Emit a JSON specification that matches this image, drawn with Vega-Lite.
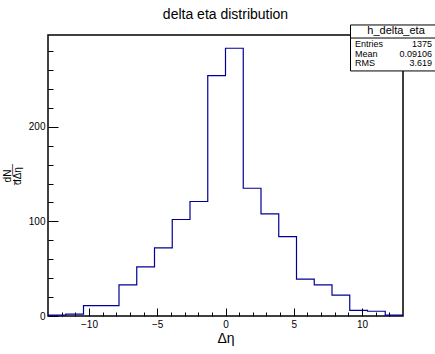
{
  "$schema": "https://vega.github.io/schema/vega-lite/v6.json",
  "autosize": "none",
  "width": 355,
  "height": 281,
  "padding": {"left": 48, "top": 35, "right": 32, "bottom": 38},
  "background": "white",
  "config": {
    "font": "Liberation Sans",
    "view": {"stroke": "black", "strokeWidth": 1.5},
    "axis": {"domain": false, "grid": false, "labelColor": "black", "titleColor": "black", "labelFont": "Liberation Sans", "titleFont": "Liberation Sans", "titleFontWeight": "normal", "tickColor": "black", "labelOverlap": false, "tickWidth": 1, "ticks": true, "zindex": 1}
  },
  "title": {"text": "delta eta distribution", "fontSize": 14, "fontWeight": "normal", "font": "Liberation Sans", "anchor": "middle", "frame": "group", "offset": 2, "color": "black"},
  "resolve": {"axis": {"x": "independent", "y": "independent"}},
  "datasets": {
    "hist": [
      {"bin_start": -13, "bin_end": -11.7, "count": 1},
      {"bin_start": -11.7, "bin_end": -10.4, "count": 2},
      {"bin_start": -10.4, "bin_end": -9.1, "count": 11},
      {"bin_start": -9.1, "bin_end": -7.8, "count": 11},
      {"bin_start": -7.8, "bin_end": -6.5, "count": 33},
      {"bin_start": -6.5, "bin_end": -5.2, "count": 52},
      {"bin_start": -5.2, "bin_end": -3.9, "count": 72},
      {"bin_start": -3.9, "bin_end": -2.6, "count": 102},
      {"bin_start": -2.6, "bin_end": -1.3, "count": 121},
      {"bin_start": -1.3, "bin_end": 0, "count": 254},
      {"bin_start": 0, "bin_end": 1.3, "count": 283},
      {"bin_start": 1.3, "bin_end": 2.6, "count": 135},
      {"bin_start": 2.6, "bin_end": 3.9, "count": 108},
      {"bin_start": 3.9, "bin_end": 5.2, "count": 84},
      {"bin_start": 5.2, "bin_end": 6.5, "count": 39},
      {"bin_start": 6.5, "bin_end": 7.8, "count": 33},
      {"bin_start": 7.8, "bin_end": 9.1, "count": 22},
      {"bin_start": 9.1, "bin_end": 10.4, "count": 6},
      {"bin_start": 10.4, "bin_end": 11.7, "count": 5},
      {"bin_start": 11.7, "bin_end": 13, "count": 1}
    ],
    "stats": [
      {"title": "h_delta_eta", "names": ["Entries", "Mean", "RMS"], "vals": ["1375", "0.09106", "3.619"]}
    ]
  },
  "layer": [
    {
      "data": {"name": "hist"},
      "transform": [{"fold": ["bin_start", "bin_end"], "as": ["edge", "xpos"]}],
      "mark": {"type": "line", "color": "#000099", "strokeWidth": 1.2, "clip": false},
      "encoding": {
        "x": {
          "field": "xpos", "type": "quantitative",
          "scale": {"domain": [-13, 13], "nice": false, "zero": false},
          "axis": {
            "orient": "bottom", "offset": -8,
            "title": "Δη", "titleFontSize": 14, "titlePadding": 2,
            "values": [-10, -5, 0, 5, 10],
            "labelFontSize": 10, "labelPadding": 3,
            "tickSize": 8
          }
        },
        "y": {
          "field": "count", "type": "quantitative",
          "scale": {"domain": [0, 297], "nice": false, "zero": true},
          "axis": {
            "orient": "left", "offset": -10,
            "title": ["dN", "d\u0305Δ\u0305η\u0305"], "titleFontSize": 10, "titlePadding": 6, "titleLineHeight": 10,
            "values": [0, 100, 200],
            "labelFontSize": 10, "labelPadding": 3,
            "tickSize": 10
          }
        },
        "order": [{"field": "xpos", "type": "quantitative"}, {"field": "bin_start", "type": "quantitative"}]
      }
    },
    {
      "data": {"name": "stats"},
      "mark": {"type": "rect", "fill": "white", "stroke": "black", "strokeWidth": 1, "clip": false},
      "encoding": {
        "x": {"datum": 9.155, "type": "quantitative",
          "axis": {"orient": "bottom", "offset": -4, "title": null, "labels": false, "values": [-12, -11, -9, -8, -7, -6, -4, -3, -2, -1, 1, 2, 3, 4, 6, 7, 8, 9, 11, 12], "tickSize": 4}},
        "x2": {"datum": 16},
        "y": {"datum": 259, "type": "quantitative",
          "axis": {"orient": "left", "offset": -5, "title": null, "labels": false, "values": [20, 40, 60, 80, 120, 140, 160, 180, 220, 240, 260, 280], "tickSize": 5}},
        "y2": {"datum": 307.6}
      }
    },
    {
      "data": {"name": "stats"},
      "mark": {"type": "rule", "color": "black", "strokeWidth": 1, "clip": false},
      "encoding": {
        "x": {"datum": 9.155, "type": "quantitative", "axis": null},
        "x2": {"datum": 16},
        "y": {"datum": 293.8, "type": "quantitative", "axis": null}
      }
    },
    {
      "data": {"name": "stats"},
      "mark": {"type": "text", "fontSize": 11, "align": "center", "baseline": "middle", "color": "black", "clip": false},
      "encoding": {
        "x": {"datum": 12.49, "type": "quantitative", "axis": null},
        "y": {"datum": 300.7, "type": "quantitative", "axis": null},
        "text": {"field": "title"}
      }
    },
    {
      "data": {"name": "stats"},
      "mark": {"type": "text", "fontSize": 9, "align": "left", "baseline": "top", "lineHeight": 9.2, "color": "black", "clip": false},
      "encoding": {
        "x": {"datum": 9.48, "type": "quantitative", "axis": null},
        "y": {"datum": 291.2, "type": "quantitative", "axis": null},
        "text": {"field": "names"}
      }
    },
    {
      "data": {"name": "stats"},
      "mark": {"type": "text", "fontSize": 9, "align": "right", "baseline": "top", "lineHeight": 9.2, "color": "black", "clip": false},
      "encoding": {
        "x": {"datum": 15.12, "type": "quantitative", "axis": null},
        "y": {"datum": 291.2, "type": "quantitative", "axis": null},
        "text": {"field": "vals"}
      }
    }
  ]
}
